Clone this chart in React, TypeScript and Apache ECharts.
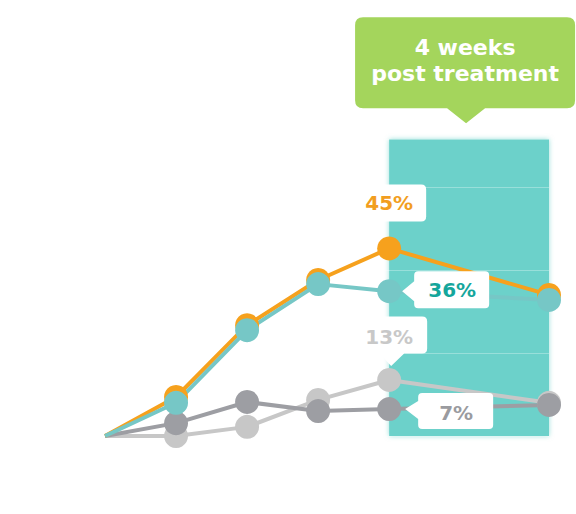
import { useEffect, useRef } from "react";
import * as echarts from "echarts";

// x positions (weeks) and series values (%)
const weeks = [0, 1, 2, 3, 4, 6.25];
const orangeValues = [0, 9.4, 26.7, 37.6, 45.2, 34];
const tealValues = [0, 8, 25.5, 36.6, 34.9, 32.8];
const lightGreyValues = [0, 0, 2.2, 8.7, 13.5, 8];
const darkGreyValues = [0, 3.1, 8.2, 6, 6.5, 7.5];
const calloutLabels = ["45%", "36%", "13%", "7%"];
const bandTitle = "4 weeks\npost treatment";
const yMax = 71.5;

const FONT = "DejaVu Sans";

// callout shapes
const titleShape =
  "path://M8,0 H212 Q220,0 220,8 V83 Q220,91 212,91 H130 L111,106 L92,91 H8 Q0,91 0,83 V8 Q0,0 8,0 Z";
const boxShape =
  "path://M5,0 H69 Q74,0 74,5 V32 Q74,37 69,37 H5 Q0,37 0,32 V5 Q0,0 5,0 Z";
const leftShape36 =
  "path://M12,4 Q12,0 16,0 H83 Q87,0 87,4 V33 Q87,37 83,37 H16 Q12,37 12,33 V30 L0,20 L12,10 Z";
const downShape13 =
  "path://M5,0 H71 Q76,0 76,5 V32 Q76,37 71,37 H53 L40,49.5 L28,37 H5 Q0,37 0,32 V5 Q0,0 5,0 Z";
const leftShape7 =
  "path://M13,4 Q13,0 17,0 H84 Q88,0 88,4 V32 Q88,36 84,36 H17 Q13,36 13,32 V26 L0,16 L13,8 Z";

function toData(values: number[]) {
  return weeks.map((w, i) =>
    i === 0 ? { value: [w, values[i]], symbol: "none" } : [w, values[i]]
  );
}

function callout(
  coord: number[],
  text: string,
  color: string,
  symbol: string,
  size: number[],
  offset: number[],
  labelOffset: number[]
) {
  return {
    coord,
    symbol,
    symbolSize: size,
    symbolOffset: offset,
    itemStyle: { color: "#ffffff" },
    label: {
      show: true,
      position: "inside",
      formatter: text,
      offset: labelOffset,
      color,
      fontFamily: FONT,
      fontWeight: "bold",
      fontSize: 20,
    },
  };
}

export default function App() {
  const chartRef = useRef<HTMLDivElement>(null);

  useEffect(() => {
    const myChart = echarts.init(chartRef.current!, null, { renderer: "svg" });

    const lineSeries = (
      name: string,
      values: number[],
      color: string,
      extra: any = {}
    ) => ({
      name,
      type: "line",
      data: toData(values),
      symbol: "circle",
      symbolSize: 24,
      showAllSymbol: true,
      lineStyle: { color, width: 4 },
      itemStyle: { color },
      clip: false,
      ...extra,
    });

    const option = {
      animation: false,
      grid: { left: 105, right: 27, top: 139.3, bottom: 78 },
      xAxis: {
        type: "value",
        min: 0,
        max: weeks[5],
        show: false,
      },
      yAxis: {
        type: "value",
        min: 0,
        max: yMax,
        interval: 20,
        z: 1.5,
        axisLine: { show: false },
        axisTick: { show: false },
        axisLabel: { show: false },
        splitLine: { lineStyle: { color: "rgba(255,255,255,0.3)", width: 1 } },
      },
      series: [
        lineSeries("light", lightGreyValues, "#c7c7c7", {
          markArea: {
            silent: true,
            z: 1,
            itemStyle: {
              color: "#6cd1ca",
              shadowBlur: 5,
              shadowColor: "rgba(108,209,202,0.7)",
            },
            data: [
              [
                { coord: [weeks[4], 0] },
                { coord: [weeks[5], yMax] },
              ],
            ],
          },
          markPoint: {
            silent: true,
            data: [
              {
                coord: [(weeks[4] + weeks[5]) / 2, yMax],
                symbol: titleShape,
                symbolSize: [220, 106],
                symbolOffset: [-4, -69],
                itemStyle: { color: "#a4d55c" },
                label: {
                  show: true,
                  position: "inside",
                  formatter: bandTitle,
                  offset: [0, -10],
                  color: "#ffffff",
                  fontFamily: FONT,
                  fontWeight: "bold",
                  fontSize: 22,
                  lineHeight: 26,
                },
              },
              callout(
                [weeks[4], lightGreyValues[4]],
                calloutLabels[2],
                "#c8c8c8",
                downShape13,
                [76, 49.5],
                [0, -38.75],
                [0, -4.25]
              ),
            ],
          },
        }),
        lineSeries("dark", darkGreyValues, "#9d9ea3", {
          markPoint: {
            silent: true,
            data: [
              callout(
                [weeks[4], darkGreyValues[4]],
                calloutLabels[3],
                "#9a9b9f",
                leftShape7,
                [88, 36],
                [60, 2],
                [7, 2]
              ),
            ],
          },
        }),
        lineSeries("orange", orangeValues, "#f6a11d", {
          markPoint: {
            silent: true,
            data: [
              callout(
                [weeks[4], orangeValues[4]],
                calloutLabels[0],
                "#f29e1f",
                boxShape,
                [74, 37],
                [0, -45.5],
                [0, 0]
              ),
            ],
          },
        }),
        lineSeries("teal", tealValues, "#76c7c6", {
          markPoint: {
            silent: true,
            data: [
              callout(
                [weeks[4], tealValues[4]],
                calloutLabels[1],
                "#15a69c",
                leftShape36,
                [87, 37],
                [56.5, -1.5],
                [6.5, 0]
              ),
            ],
          },
        }),
      ],
    };

    myChart.setOption(option);

    const handleResize = () => myChart.resize();
    window.addEventListener("resize", handleResize);

    return () => {
      window.removeEventListener("resize", handleResize);
      myChart.dispose();
    };
  }, []);

  return (
    <div
      ref={chartRef}
      style={{ position: "absolute", left: 0, top: 0, width: "576px", height: "514px" }}
    />
  );
}
